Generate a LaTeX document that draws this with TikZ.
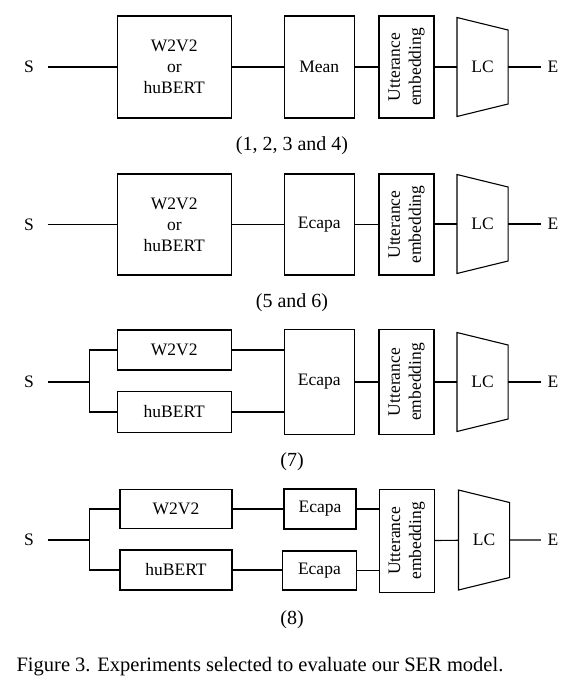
\documentclass[tikz,border=0pt]{standalone}
\usepackage{fontspec}
\setmainfont{Liberation Serif}

\begin{document}
\begin{tikzpicture}[
    x=1pt, y=-1pt,
    line width=1.1pt,
    box/.style={rectangle, draw, line width=1.1pt, inner sep=0pt, align=center, font=\fontsize{17.5}{21}\selectfont},
    embed/.style={box, rotate=90, minimum width=103pt, minimum height=55pt},
    lcnode/.style={inner sep=0pt, minimum width=50pt, minimum height=99pt, font=\fontsize{17.5}{21}\selectfont},
    io/.style={inner sep=0pt, minimum height=20pt, font=\fontsize{17.5}{21}\selectfont},
    tag/.style={font=\fontsize{20}{24}\selectfont}
]
    \useasboundingbox (0,0) rectangle (569,686);

    \node[io, minimum width=36pt] (s1) at (29,67) {S};
    \node[box, minimum width=114.5pt, minimum height=102pt] (enc1) at (174.3,67) {W2V2\\or\\huBERT};
    \node[box, minimum width=70.5pt, minimum height=102pt] (mean1) at (319.3,67) {Mean};
    \node[embed, minimum width=102pt] (utt1) at (406.5,67) {Utterance\\embedding};
    \node[lcnode] (lc1) at (482.5,67) {LC};
    \node[io, minimum width=23pt] (e1) at (553,67) {E};
    \node[tag] (lab1) at (292,146) {(1, 2, 3 and 4)};

    \draw ([yshift=49.5pt]lc1.west) -- ([yshift=37pt]lc1.east) -- ([yshift=-37pt]lc1.east) -- ([yshift=-49.5pt]lc1.west) -- cycle;
    \draw (s1) -- (enc1) -- (mean1) -- (utt1) -- (lc1) -- (e1);

    \node[io, minimum width=36pt] (s2) at (29,224.5) {S};
    \node[box, minimum width=114.5pt, minimum height=101pt] (enc2) at (174.3,224.5) {W2V2\\or\\huBERT};
    \node[box, minimum width=70.5pt, minimum height=101pt] (ecapa2) at (319.3,224.5) {Ecapa};
    \node[embed, minimum width=101pt] (utt2) at (406.5,224.5) {Utterance\\embedding};
    \node[lcnode] (lc2) at (482.5,224) {LC};
    \node[io, minimum width=23pt] (e2) at (553,224) {E};
    \node[tag] (lab2) at (292,303) {(5 and 6)};

    \draw ([yshift=49.5pt]lc2.west) -- ([yshift=37pt]lc2.east) -- ([yshift=-37pt]lc2.east) -- ([yshift=-49.5pt]lc2.west) -- cycle;
    \draw (s2) -- (enc2) -- (ecapa2) -- (utt2);
    \draw (utt2.south |- lc2) -- (lc2) -- (e2);

    \node[io, minimum width=36pt] (s3) at (29,382) {S};
    \coordinate (br3) at (89.6,382);
    \node[box, minimum width=114.5pt, minimum height=40pt] (w2v2c) at (174.3,350) {W2V2};
    \node[box, minimum width=114.5pt, minimum height=41pt] (hubc) at (174.3,412) {huBERT};
    \node[box, minimum width=70.5pt, minimum height=105pt] (ecapa3) at (319.3,382) {Ecapa};
    \node[embed, minimum width=105pt] (utt3) at (406.5,382) {Utterance\\embedding};
    \node[lcnode] (lc3) at (482.5,382) {LC};
    \node[io, minimum width=23pt] (e3) at (553,382) {E};
    \node[tag] (lab3) at (292,461.5) {(7)};

    \draw ([yshift=49.5pt]lc3.west) -- ([yshift=37pt]lc3.east) -- ([yshift=-37pt]lc3.east) -- ([yshift=-49.5pt]lc3.west) -- cycle;
    \draw (s3) -- (br3);
    \draw (w2v2c.west) -| (br3) |- (hubc.west);
    \draw (w2v2c) -- (w2v2c -| ecapa3.west);
    \draw (hubc) -- (hubc -| ecapa3.west);
    \draw (ecapa3) -- (utt3) -- (lc3) -- (e3);

    \node[io, minimum width=36pt] (s4) at (29,540) {S};
    \coordinate (br4) at (89.6,540);
    \node[box, minimum width=112pt, minimum height=39pt] (w2v2d) at (176,509) {W2V2};
    \node[box, minimum width=112pt, minimum height=40pt] (hubd) at (176,570) {huBERT};
    \node[box, minimum width=72pt, minimum height=40pt] (ecapad1) at (320,509) {Ecapa};
    \node[box, minimum width=73.3pt, minimum height=39pt] (ecapad2) at (319.4,570.5) {Ecapa};
    \node[embed, minimum width=103pt] (utt4) at (406.7,540.8) {Utterance\\embedding};
    \node[lcnode, minimum height=100pt] (lc4) at (484,540) {LC};
    \node[io, minimum width=23pt] (e4) at (553,540) {E};
    \node[tag] (lab4) at (292,620) {(8)};

    \draw ([yshift=50pt]lc4.west) -- ([yshift=37.5pt]lc4.east) -- ([yshift=-37.5pt]lc4.east) -- ([yshift=-50pt]lc4.west) -- cycle;
    \draw (s4) -- (br4);
    \draw (w2v2d.west) -| (br4) |- (hubd.west);
    \draw (w2v2d) -- (w2v2d -| ecapad1.west);
    \draw (hubd) -- (hubd -| ecapad2.west);
    \draw (ecapad1) -- (ecapad1 -| utt4.north);
    \draw (ecapad2) -- (ecapad2 -| utt4.north);
    \draw (utt4) -- (lc4) -- (e4);

    \node[anchor=west, font=\fontsize{20.5}{24}\selectfont] (fig) at (12.7,667) {Figure 3. Experiments selected to evaluate our SER model.};
\end{tikzpicture}
\end{document}
